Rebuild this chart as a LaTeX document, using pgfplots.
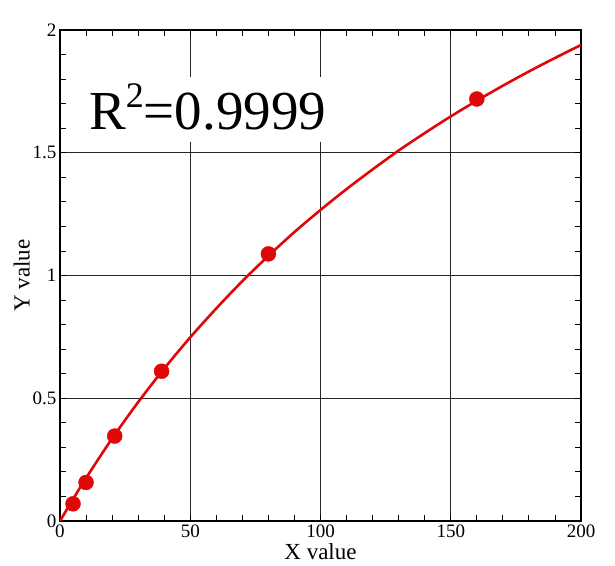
\documentclass[border=0pt]{standalone}
\usepackage{fontspec}
\setmainfont{Liberation Serif}
\usepackage{pgfplots}
\pgfplotsset{compat=1.18}
\usetikzlibrary{calc}

\definecolor{fitred}{RGB}{222,8,8}

\begin{document}
\begin{tikzpicture}
  \begin{axis}[
    scale only axis,
    width=521pt, height=491pt,
    xmin=0, xmax=200, ymin=0, ymax=2,
    xtick={0,50,...,200}, ytick={0,0.5,...,2},
    minor x tick num=4, minor y tick num=4,
    tick align=inside,
    major tick length=6pt, minor tick length=6pt,
    every tick/.style={black, line width=0.9pt},
    grid=major, grid style={black!85, line width=0.9pt},
    axis line style={black, line width=1.4pt},
    /pgf/number format/assume math mode=true,
    tick label style={font=\fontsize{19}{19}\selectfont},
    label style={font=\fontsize{23}{23}\selectfont},
    xlabel={X value}, ylabel={Y value},
    xlabel style={yshift=1pt},
    ylabel style={yshift=-4pt},
  ]
  % fitted curve
  \addplot[fitred, line width=2.6pt, smooth] coordinates {
    (0,0)(5,0.089)(10,0.175)(20,0.336)(30,0.484)(40,0.621)(50,0.748)
    (60,0.866)(70,0.977)(80,1.080)(90,1.177)(100,1.267)(110,1.352)
    (120,1.432)(130,1.509)(140,1.580)(150,1.648)(160,1.712)(170,1.773)
    (180,1.831)(190,1.886)(200,1.939)};
  % measured points
  \addplot[only marks, mark=*, mark size=7.5pt, color=fitred, fill=fitred] coordinates {
    (5,0.070)(10,0.157)(21,0.346)(39,0.610)(80,1.088)(160,1.719)};
  \node[anchor=base west, fill=white, inner sep=3pt, text height=50pt, text depth=9pt,
        font=\fontsize{55}{55}\selectfont] at (axis cs:10.0,1.593)
        {R\raisebox{0.4em}{\fontsize{36}{36}\selectfont 2}=0.9999};
  \end{axis}
  \pgfresetboundingbox
  \path[use as bounding box] ($(current axis.south west)+(-60pt,-44pt)$) rectangle ($(current axis.north east)+(34pt,30pt)$);
\end{tikzpicture}
\end{document}
